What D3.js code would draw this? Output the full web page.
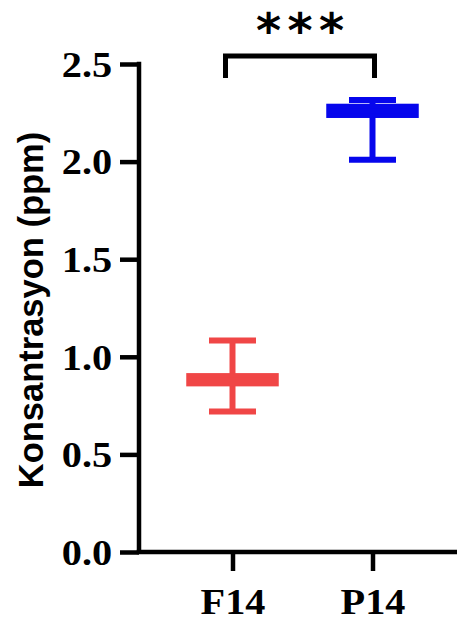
<!DOCTYPE html>
<html>
<head>
<meta charset="utf-8">
<script src="https://cdn.jsdelivr.net/npm/d3@7"></script>
<style>
  html, body { margin: 0; padding: 0; background: #fff; }
  svg { display: block; }
</style>
</head>
<body>
<div id="chart"></div>
<script>
// Groups and their five-number summaries (ppm)
const groups = ["F14", "P14"];
const minVals = [0.72, 2.01];
const q1Vals = [0.86, 2.235];
const medianVals = [0.88, 2.26];
const q3Vals = [0.905, 2.285];
const maxVals = [1.083, 2.315];
const colors = ["#F04646", "#0606EC"];

const yTicks = [0, 0.5, 1.0, 1.5, 2.0, 2.5];
const yLabel = "Konsantrasyon (ppm)";
const sigLabel = "***";

const W = 458, H = 621;
const svg = d3.select("#chart").append("svg")
  .attr("width", W).attr("height", H);

const axisLeftX = 139, axisRightX = 457;
const y = d3.scaleLinear().domain([0, 2.5]).range([552, 64]);
const x = d3.scalePoint().domain(groups).range([232.5, 372.5]);

const axisW = 4.5;
const tickFont = "'Liberation Serif', 'Times New Roman', serif";

// Y axis
const yAxis = svg.append("g")
  .attr("transform", `translate(${axisLeftX},0)`)
  .call(d3.axisLeft(y).tickValues(yTicks).tickFormat(d3.format(".1f"))
    .tickSize(19).tickSizeOuter(0).tickPadding(5));
yAxis.select(".domain").attr("stroke", "#000").attr("stroke-width", axisW)
  .attr("d", `M0,${y(2.5) - axisW / 2}V${y(0)}`);
yAxis.selectAll(".tick line").attr("stroke", "#000").attr("stroke-width", axisW);
yAxis.selectAll(".tick text")
  .attr("font-family", tickFont).attr("font-weight", "bold")
  .attr("font-size", 36).attr("fill", "#000")
  .attr("dy", "0.34em")
  .attr("transform", "scale(1.12,1)");

// X axis
const xAxis = svg.append("g")
  .attr("transform", `translate(0,${y(0)})`)
  .call(d3.axisBottom(x).tickSize(19).tickSizeOuter(0).tickPadding(17));
xAxis.select(".domain").attr("stroke", "#000").attr("stroke-width", axisW)
  .attr("d", `M${axisLeftX - axisW / 2},0H${axisRightX}`);
xAxis.selectAll(".tick line").attr("stroke", "#000").attr("stroke-width", axisW);
// labels are widened slightly around their own tick centre
xAxis.selectAll(".tick text")
  .attr("font-family", tickFont).attr("font-weight", "bold")
  .attr("font-size", 36).attr("fill", "#000")
  .attr("dy", "0.71em")
  .attr("transform", "scale(1.12,1)");

// Y axis title
svg.append("text")
  .attr("transform", "translate(43,310) rotate(-90)")
  .attr("text-anchor", "middle")
  .attr("font-family", "'Liberation Sans', Arial, sans-serif")
  .attr("font-weight", "bold")
  .attr("font-size", 34.5)
  .attr("fill", "#000")
  .text(yLabel);

// Box-and-whisker marks
const boxHalf = 44, capHalf = 23.5, whiskerW = 6;
groups.forEach((g, i) => {
  const cx = x(g), c = colors[i];
  const gEl = svg.append("g");
  // whiskers
  gEl.append("line").attr("x1", cx).attr("x2", cx)
    .attr("y1", y(maxVals[i])).attr("y2", y(q3Vals[i]))
    .attr("stroke", c).attr("stroke-width", whiskerW);
  gEl.append("line").attr("x1", cx).attr("x2", cx)
    .attr("y1", y(q1Vals[i])).attr("y2", y(minVals[i]))
    .attr("stroke", c).attr("stroke-width", whiskerW);
  // caps
  [maxVals[i], minVals[i]].forEach(v => {
    gEl.append("line").attr("x1", cx - capHalf).attr("x2", cx + capHalf)
      .attr("y1", y(v)).attr("y2", y(v))
      .attr("stroke", c).attr("stroke-width", whiskerW);
  });
  // box
  gEl.append("rect")
    .attr("x", cx - boxHalf).attr("width", boxHalf * 2)
    .attr("y", y(q3Vals[i])).attr("height", y(q1Vals[i]) - y(q3Vals[i]))
    .attr("fill", c).attr("stroke", c).attr("stroke-width", axisW);
  // median
  gEl.append("line").attr("x1", cx - boxHalf).attr("x2", cx + boxHalf)
    .attr("y1", y(medianVals[i])).attr("y2", y(medianVals[i]))
    .attr("stroke", c).attr("stroke-width", axisW);
});

// Significance bracket
const bx1 = x("F14") - 7, bx2 = x("P14") + 2, byTop = 56, byLeg = 78;
svg.append("path")
  .attr("d", `M${bx1},${byLeg}V${byTop}H${bx2}V${byLeg}`)
  .attr("fill", "none").attr("stroke", "#000").attr("stroke-width", 5)
  .attr("stroke-linejoin", "miter");

const starMid = (bx1 + bx2) / 2;
[-1, 0, 1].forEach((k, j) => {
  svg.append("text")
    .attr("x", starMid + k * 31.5).attr("y", 47)
    .attr("text-anchor", "middle")
    .attr("font-family", "'DejaVu Sans', sans-serif")
    .attr("font-weight", "bold").attr("font-size", 48)
    .attr("fill", "#000")
    .text(sigLabel[j]);
});
</script>
</body>
</html>
